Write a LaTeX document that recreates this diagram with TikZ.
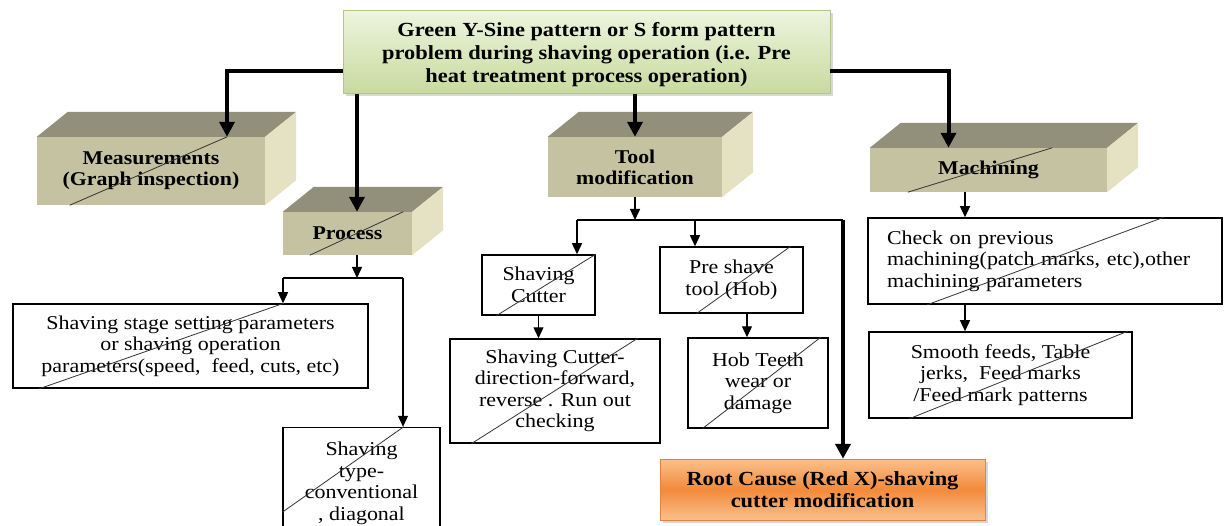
\documentclass[tikz,border=0pt]{standalone}
\usepackage{fontspec}
\setmainfont{Liberation Serif}[FakeStretch=1.12]
\usetikzlibrary{arrows.meta,shadows,calc}

\definecolor{slabfront}{RGB}{196,194,160}
\definecolor{slabtop}{RGB}{146,144,122}
\definecolor{slabside}{RGB}{228,226,194}
\definecolor{greenlight}{RGB}{238,244,222}
\definecolor{greendark}{RGB}{200,218,158}
\definecolor{greenline}{RGB}{180,196,140}
\definecolor{orangelight}{RGB}{250,192,140}
\definecolor{orangedark}{RGB}{242,138,58}
\definecolor{orangeline}{RGB}{226,130,70}

\tikzset{
  bigarrow/.style={line width=4pt, -{Triangle[width=15pt,length=15pt]}},
  smallarrow/.style={line width=1.3pt, -{Triangle[width=10pt,length=11pt]}},
  slab/.style={fill=slabfront, inner sep=0pt, align=center,
    font=\bfseries\fontsize{19.5}{21}\selectfont},
  plainbox/.style={draw, line width=1.5pt, fill=white, inner sep=0pt, align=center,
    font=\fontsize{19.6}{21.5}\selectfont},
  slash/.style={draw=black!80, line width=0.8pt},
  headbox/.style={draw=greenline, top color=greenlight, bottom color=greendark,
    drop shadow={shadow xshift=3pt, shadow yshift=-3pt, fill=gray!60},
    inner sep=0pt, align=center, font=\bfseries\fontsize{20}{23}\selectfont},
  rootbox/.style={draw=orangeline, top color=orangelight, bottom color=orangelight,
    middle color=orangedark,
    drop shadow={shadow xshift=3pt, shadow yshift=-3pt, fill=gray!60},
    inner sep=0pt, align=center, font=\bfseries\fontsize{20}{22}\selectfont}
}

% top and side faces of a raised box
\newcommand\slabfaces[1]{%
  \fill[slabtop] (#1.north west) -- (#1.north east) -- ++(31,-25)
    -- ([shift={(31,-25)}]#1.north west) -- cycle;
  \fill[slabside] (#1.north east) -- (#1.south east) -- ++(31,-25)
    -- ([shift={(31,-25)}]#1.north east) -- cycle;}

\begin{document}
\begin{tikzpicture}[x=1pt,y=-1pt]
\useasboundingbox (0,0) rectangle (1225,526);

% main problem
\node[headbox, minimum width=487pt, minimum height=83pt] (green) at (586.5,52)
  {\\[-3pt]Green Y-Sine pattern or S form pattern\\ problem during shaving operation (i.e. Pre\\ heat treatment process operation)};

% raised boxes
\node[slab, minimum width=228pt, minimum height=68pt] (meas) at (151,171) {Measurements\\ (Graph inspection)};
\node[slab, minimum width=129pt, minimum height=43pt] (proc) at (347.5,233.5) {Process};
\node[slab, minimum width=174pt, minimum height=60pt] (tool) at (635,167) {Tool\\ modification};
\node[slab, minimum width=237pt, minimum height=44pt] (mach) at (988.5,170) {Machining};
\slabfaces{meas}
\slabfaces{proc}
\slabfaces{tool}
\slabfaces{mach}
\draw[slash] ([xshift=33pt]meas.south west) -- ([xshift=-38pt]meas.north east);
\draw[slash] ([xshift=27pt]proc.south west) -- ([xshift=-9pt]proc.north east);
\draw[slash] ([xshift=38pt]mach.south west) -- ([xshift=-55pt]mach.north east);

% process branch
\node[plainbox, minimum width=355pt, minimum height=84pt] (stage) at (190.5,346)
  {Shaving stage setting parameters\\ or shaving operation\\ parameters(speed,\ \ feed, cuts, etc)};
\node[plainbox, minimum width=157pt, minimum height=112pt] (type) at (361.5,483.5)
  {Shaving\\ type-\\ conventional\\ , diagonal};
\draw[slash] ([xshift=27pt]stage.south west) -- ([xshift=-85pt]stage.north east);
\draw[slash] ([yshift=28pt]type.south west) -- ([xshift=-37pt]type.north east);

% tool branch
\node[plainbox, minimum width=113pt, minimum height=60pt] (cutter) at (538.5,285) {Shaving\\ Cutter};
\node[plainbox, minimum width=143pt, minimum height=66pt] (preshave) at (731.5,280) {Pre shave\\ tool (Hob)};
\node[plainbox, minimum width=210pt, minimum height=104pt] (cutdetail) at (555,391)
  {Shaving Cutter-\\ direction-forward,\\ reverse . Run out\\ checking};
\node[plainbox, minimum width=140pt, minimum height=90pt] (hob) at (758,383) {Hob Teeth\\ wear or\\ damage};
\draw[slash] ([xshift=15pt]cutter.south west) -- (cutter.north east);
\draw[slash] ([xshift=37pt]preshave.south west) -- ([xshift=-13pt]preshave.north east);
\draw[slash] ([xshift=22pt]cutdetail.south west) -- ([xshift=-23pt]cutdetail.north east);
\draw[slash] ([xshift=15pt]hob.south west) -- ([xshift=-8pt]hob.north east);

\node[rootbox, minimum width=325pt, minimum height=61pt] (root) at (822.5,489.5)
  {Root Cause (Red X)-shaving\\ cutter modification};

% machining branch
\node[plainbox, align=left, text width=316pt, inner xsep=19pt, minimum height=86pt] (check) at (1045,261)
  {Check on previous\\ machining(patch marks,\ etc),other\\ machining parameters};
\node[plainbox, minimum width=263pt, minimum height=86pt] (smooth) at (1000.5,375)
  {Smooth feeds, Table\\ jerks,\ \ Feed marks\\ /Feed mark patterns};
\draw[slash] ([xshift=60pt]check.south west) -- ([xshift=-59pt]check.north east);
\draw[slash] ([xshift=41pt]smooth.south west) -- ([xshift=-5pt]smooth.north east);

% x positions of the drops
\coordinate (px) at (357,0);
\coordinate (sx) at (283,0);
\coordinate (tx) at (403,0);
\coordinate (cx) at (577,0);
\coordinate (hx) at (695,0);
\coordinate (rx) at (843,0);
\coordinate (bx) at (747,0);
\coordinate (mx) at (965,0);
\coordinate (pbar) at (357,278);
\coordinate (tbar) at (635,220);

% thick connectors
\draw[bigarrow] ($(green.west)+(0,19)$) -| ([xshift=76pt]meas.north);
\draw[bigarrow] (green.south -| px) -- (proc.north -| px);
\draw[bigarrow] (green.south -| tool.north) -- (tool.north);
\draw[bigarrow] ($(green.east)+(0,19)$) -| ([xshift=-40pt]mach.north);

% thin connectors
\draw[smallarrow] (proc.south -| px) -- (pbar);
\draw[line width=1.3pt] (pbar -| sx) -- (pbar -| tx);
\draw[smallarrow] (pbar -| sx) -- (stage.north -| sx);
\draw[smallarrow] (pbar -| tx) -- (type.north -| tx);

\draw[smallarrow] (tool.south) -- (tbar);
\draw[line width=1.3pt] (tbar -| cx) -- (tbar -| rx);
\draw[smallarrow] (tbar -| cx) -- (cutter.north -| cx);
\draw[smallarrow] (tbar -| hx) -- (preshave.north -| hx);
\draw[bigarrow] (tbar -| rx) -- (root.north -| rx);
\draw[smallarrow] (cutter.south) -- (cutdetail.north -| cutter.south);
\draw[smallarrow] (preshave.south -| bx) -- (hob.north -| bx);

\draw[smallarrow] (mach.south -| mx) -- (check.north -| mx);
\draw[smallarrow] (check.south -| mx) -- (smooth.north -| mx);

\end{tikzpicture}
\end{document}
